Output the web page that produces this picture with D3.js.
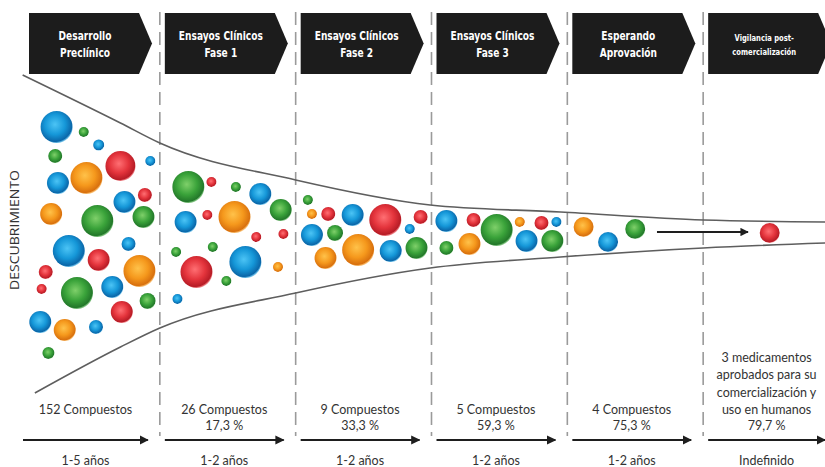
<!DOCTYPE html>
<html><head><meta charset="utf-8">
<script src="https://cdn.jsdelivr.net/npm/d3@7"></script>
<style>body{margin:0;background:#fff}svg{display:block}</style>
</head><body>
<svg id="c" width="825" height="467"></svg>
<script>
// ---------- data ----------
const headerLine1 = ["Desarrollo","Ensayos Clínicos","Ensayos Clínicos","Ensayos Clínicos","Esperando","Vigilancia post-"];
const headerLine2 = ["Preclínico","Fase 1","Fase 2","Fase 3","Aprovación","comercialización"];
const compoundText = [["152 Compuestos"],["26 Compuestos"],["9 Compuestos"],["5 Compuestos"],["4 Compuestos"],
  ["3 medicamentos","aprobados para su","comercialización y","uso en humanos"]];
const percentText = ["","17,3 %","33,3 %","59,3 %","75,3 %","79,7 %"];
const durationText = ["1-5 años","1-2 años","1-2 años","1-2 años","1-2 años","Indefinido"];
const sideLabel = "DESCUBRIMIENTO";

// bubbles: stage position (u), offset from funnel axis (v), radius, colour
const bubbleStage = [0.24,0.44,0.55,0.23,0.71,0.93,0.25,0.46,0.89,0.74,0.20,0.54,0.88,0.33,0.77,0.55,0.85,0.16,0.13,0.39,0.65,0.91,0.72,0.12,0.30,0.53,0.18,
  1.21,1.38,1.56,1.74,1.89,1.19,1.35,1.55,1.71,1.91,1.12,1.39,1.27,1.63,1.87,1.49,1.13,
  2.09,2.12,2.24,2.42,2.66,2.92,2.12,2.29,2.84,2.22,2.46,2.70,2.89,
  3.11,3.31,3.48,3.65,3.81,3.92,3.11,3.28,3.70,3.89,
  4.12,4.30,4.50,5.49];
const bubbleOffset = [105,100,87,76,66,71,49,54,37,30,18,11,15,-19,-12,-28,-39,-40,-57,-61,-55,-69,-80,-90,-98,-95,-121,
  45,50,45,38,22,10,17,15,-5,-2,-20,-15,-40,-30,-35,-49,-67,
  32,18,18,17,12,15,-3,-1,3,-26,-18,-19,-16,
  11,12,2,10,9,10,-16,-12,-9,-9,
  5,-10,3,-1];
const bubbleSize = [16,5,5.5,7,15,5,11,16,7,11,11,16,11,16,7,11,16,7,5,16,11,8,11,11,11,7,6,
  16,5,5,11,11,11,5,16,5,5,5,5,16,16,5,5,5,
  5,5,7,11,16,7,11,8,5,11,16,11,11,
  11,7,16,5,7,5,7,11,11,11,
  10,10,10,10];
const bubbleColor = ("bgbgrbborb"+"oggbbrorrg"+"bgrbobg"+"grgbgbrorr"+"ggrbogb"+"gorbrrbgbo"+"obg"+"brgorbgobg"+"obgr").split("");

// funnel outline
const funnelTopU = [-0.01,0.71,1.0,2.0,2.99,3.95,5.0,5.9];
const funnelTopV = [157,109,89,52,27,20,12,10];
const funnelBotU = [0.08,0.71,1.0,2.0,2.99,3.95,5.0,5.9];
const funnelBotV = [-161,-115,-96,-61,-36,-25,-16,-11];

// inner arrow in last stages
const innerArrowU = [4.66,5.33];

// ---------- drawing ----------
const svg = d3.select("#c");
const x = d3.scaleLinear().domain([0,6]).range([24,839]);
const y = d3.scaleLinear().domain([-100,100]).range([332,132]);
const nStages = headerLine1.length;

const palette = {
  b:["#4cc4f5","#1597d8","#0b66a8"],
  g:["#7fd06a","#3aa33a","#23782a"],
  r:["#ff6f73","#e4343c","#b71c26"],
  o:["#ffc24a","#f5981c","#d8700e"]
};
const defs = svg.append("defs");
Object.entries(palette).forEach(([k,c])=>{
  const g = defs.append("radialGradient").attr("id","grad-"+k).attr("cx","45%").attr("cy","42%").attr("r","58%");
  g.append("stop").attr("offset","0%").attr("stop-color",c[0]);
  g.append("stop").attr("offset","55%").attr("stop-color",c[1]);
  g.append("stop").attr("offset","92%").attr("stop-color",c[2]);
  g.append("stop").attr("offset","100%").attr("stop-color",c[1]).attr("stop-opacity",0.6);
});
defs.append("marker").attr("id","ah").attr("viewBox","0 0 10 10").attr("refX",9).attr("refY",5)
  .attr("markerWidth",4.2).attr("markerHeight",4.2).attr("orient","auto").attr("markerUnits","strokeWidth")
  .append("path").attr("d","M0,0 L10,5 L0,10 Z").attr("fill","#1e1e1e");

// dashed stage separators
svg.append("g").selectAll("line").data(d3.range(1,nStages)).join("line")
  .attr("x1",d=>x(d)).attr("x2",d=>x(d)).attr("y1",12).attr("y2",436)
  .attr("stroke","#9a9a9a").attr("stroke-width",1.6).attr("stroke-dasharray","13,7");

// funnel
const line = d3.line().x(d=>x(d[0])).y(d=>y(d[1])).curve(d3.curveMonotoneX);
svg.append("path").attr("d",line(funnelTopU.map((u,i)=>[u,funnelTopV[i]])))
  .attr("fill","none").attr("stroke","#5e5e5e").attr("stroke-width",1.6);
svg.append("path").attr("d",line(funnelBotU.map((u,i)=>[u,funnelBotV[i]])))
  .attr("fill","none").attr("stroke","#5e5e5e").attr("stroke-width",1.6);

// header chevrons
const hdr = svg.append("g").selectAll("g").data(d3.range(nStages)).join("g");
hdr.append("path").attr("d",i=>{
  const x0 = x(i)+5, w = 110, tip = 123, t = 13, b = 74;
  return `M${x0},${t} L${x0+w},${t} L${x0+tip},${(t+b)/2} L${x0+w},${b} L${x0},${b} Z`;
}).attr("fill","#1c1c1c");
const hdrText = (sel, arr, yMain, yLast) => sel.append("text")
  .attr("transform",i=>`translate(${x(i)+61},${i===nStages-1?yLast:yMain}) scale(0.84,1)`)
  .attr("text-anchor","middle").attr("fill","#fff")
  .style("font-family","'Liberation Sans Narrow','DejaVu Sans Condensed','DejaVu Sans',sans-serif")
  .style("font-weight","bold").style("font-size",i=>i===nStages-1?"9px":"12px")
  .text(i=>arr[i]);
hdrText(hdr, headerLine1, 39.5, 41);
hdrText(hdr, headerLine2, 56.5, 55);

// bubbles
svg.append("g").selectAll("circle").data(bubbleStage.map((u,i)=>i)).join("circle")
  .attr("cx",i=>x(bubbleStage[i])).attr("cy",i=>y(bubbleOffset[i]))
  .attr("r",i=>bubbleSize[i]).attr("fill",i=>`url(#grad-${bubbleColor[i]})`);

// inner arrow
svg.append("line").attr("x1",x(innerArrowU[0])).attr("x2",x(innerArrowU[1]))
  .attr("y1",y(0)).attr("y2",y(0)).attr("stroke","#1e1e1e").attr("stroke-width",2)
  .attr("marker-end","url(#ah)");

// side label
svg.append("text").attr("transform",`translate(19,${y(2)}) rotate(-90)`)
  .attr("text-anchor","middle").attr("fill","#333")
  .style("font-family","'Open Sans',sans-serif").style("font-size","12px")
  .attr("textLength",120).attr("lengthAdjust","spacingAndGlyphs")
  .text(sideLabel);

// bottom texts and arrows
const bottom = svg.append("g").selectAll("g").data(d3.range(nStages)).join("g");
const ax0 = i=>x(i)+(i===0?-1:5), ax1 = i=>i===nStages-1?825:x(i+1)-12;
const cx = i=>(ax0(i)+Math.min(ax1(i),x(i+1)-12))/2;
const txtStyle = sel=>sel.attr("text-anchor","middle").attr("fill","#333")
  .style("font-family","Lato,'Open Sans',sans-serif").style("font-size","12.5px");
bottom.each(function(i){
  const g = d3.select(this);
  const lines = compoundText[i];
  lines.forEach((t,k)=>{
    g.append("text").attr("x",cx(i)).attr("y",414-(lines.length-1-k)*17.5).call(txtStyle).text(t);
  });
  if (percentText[i]) g.append("text").attr("x",cx(i)).attr("y",429.5).call(txtStyle).text(percentText[i]);
  g.append("line").attr("x1",ax0(i)).attr("x2",ax1(i)).attr("y1",440).attr("y2",440)
    .attr("stroke","#1e1e1e").attr("stroke-width",2.2).attr("marker-end","url(#ah)");
  g.append("text").attr("x",cx(i)).attr("y",465).call(txtStyle).text(durationText[i]);
});
</script>
</body></html>
